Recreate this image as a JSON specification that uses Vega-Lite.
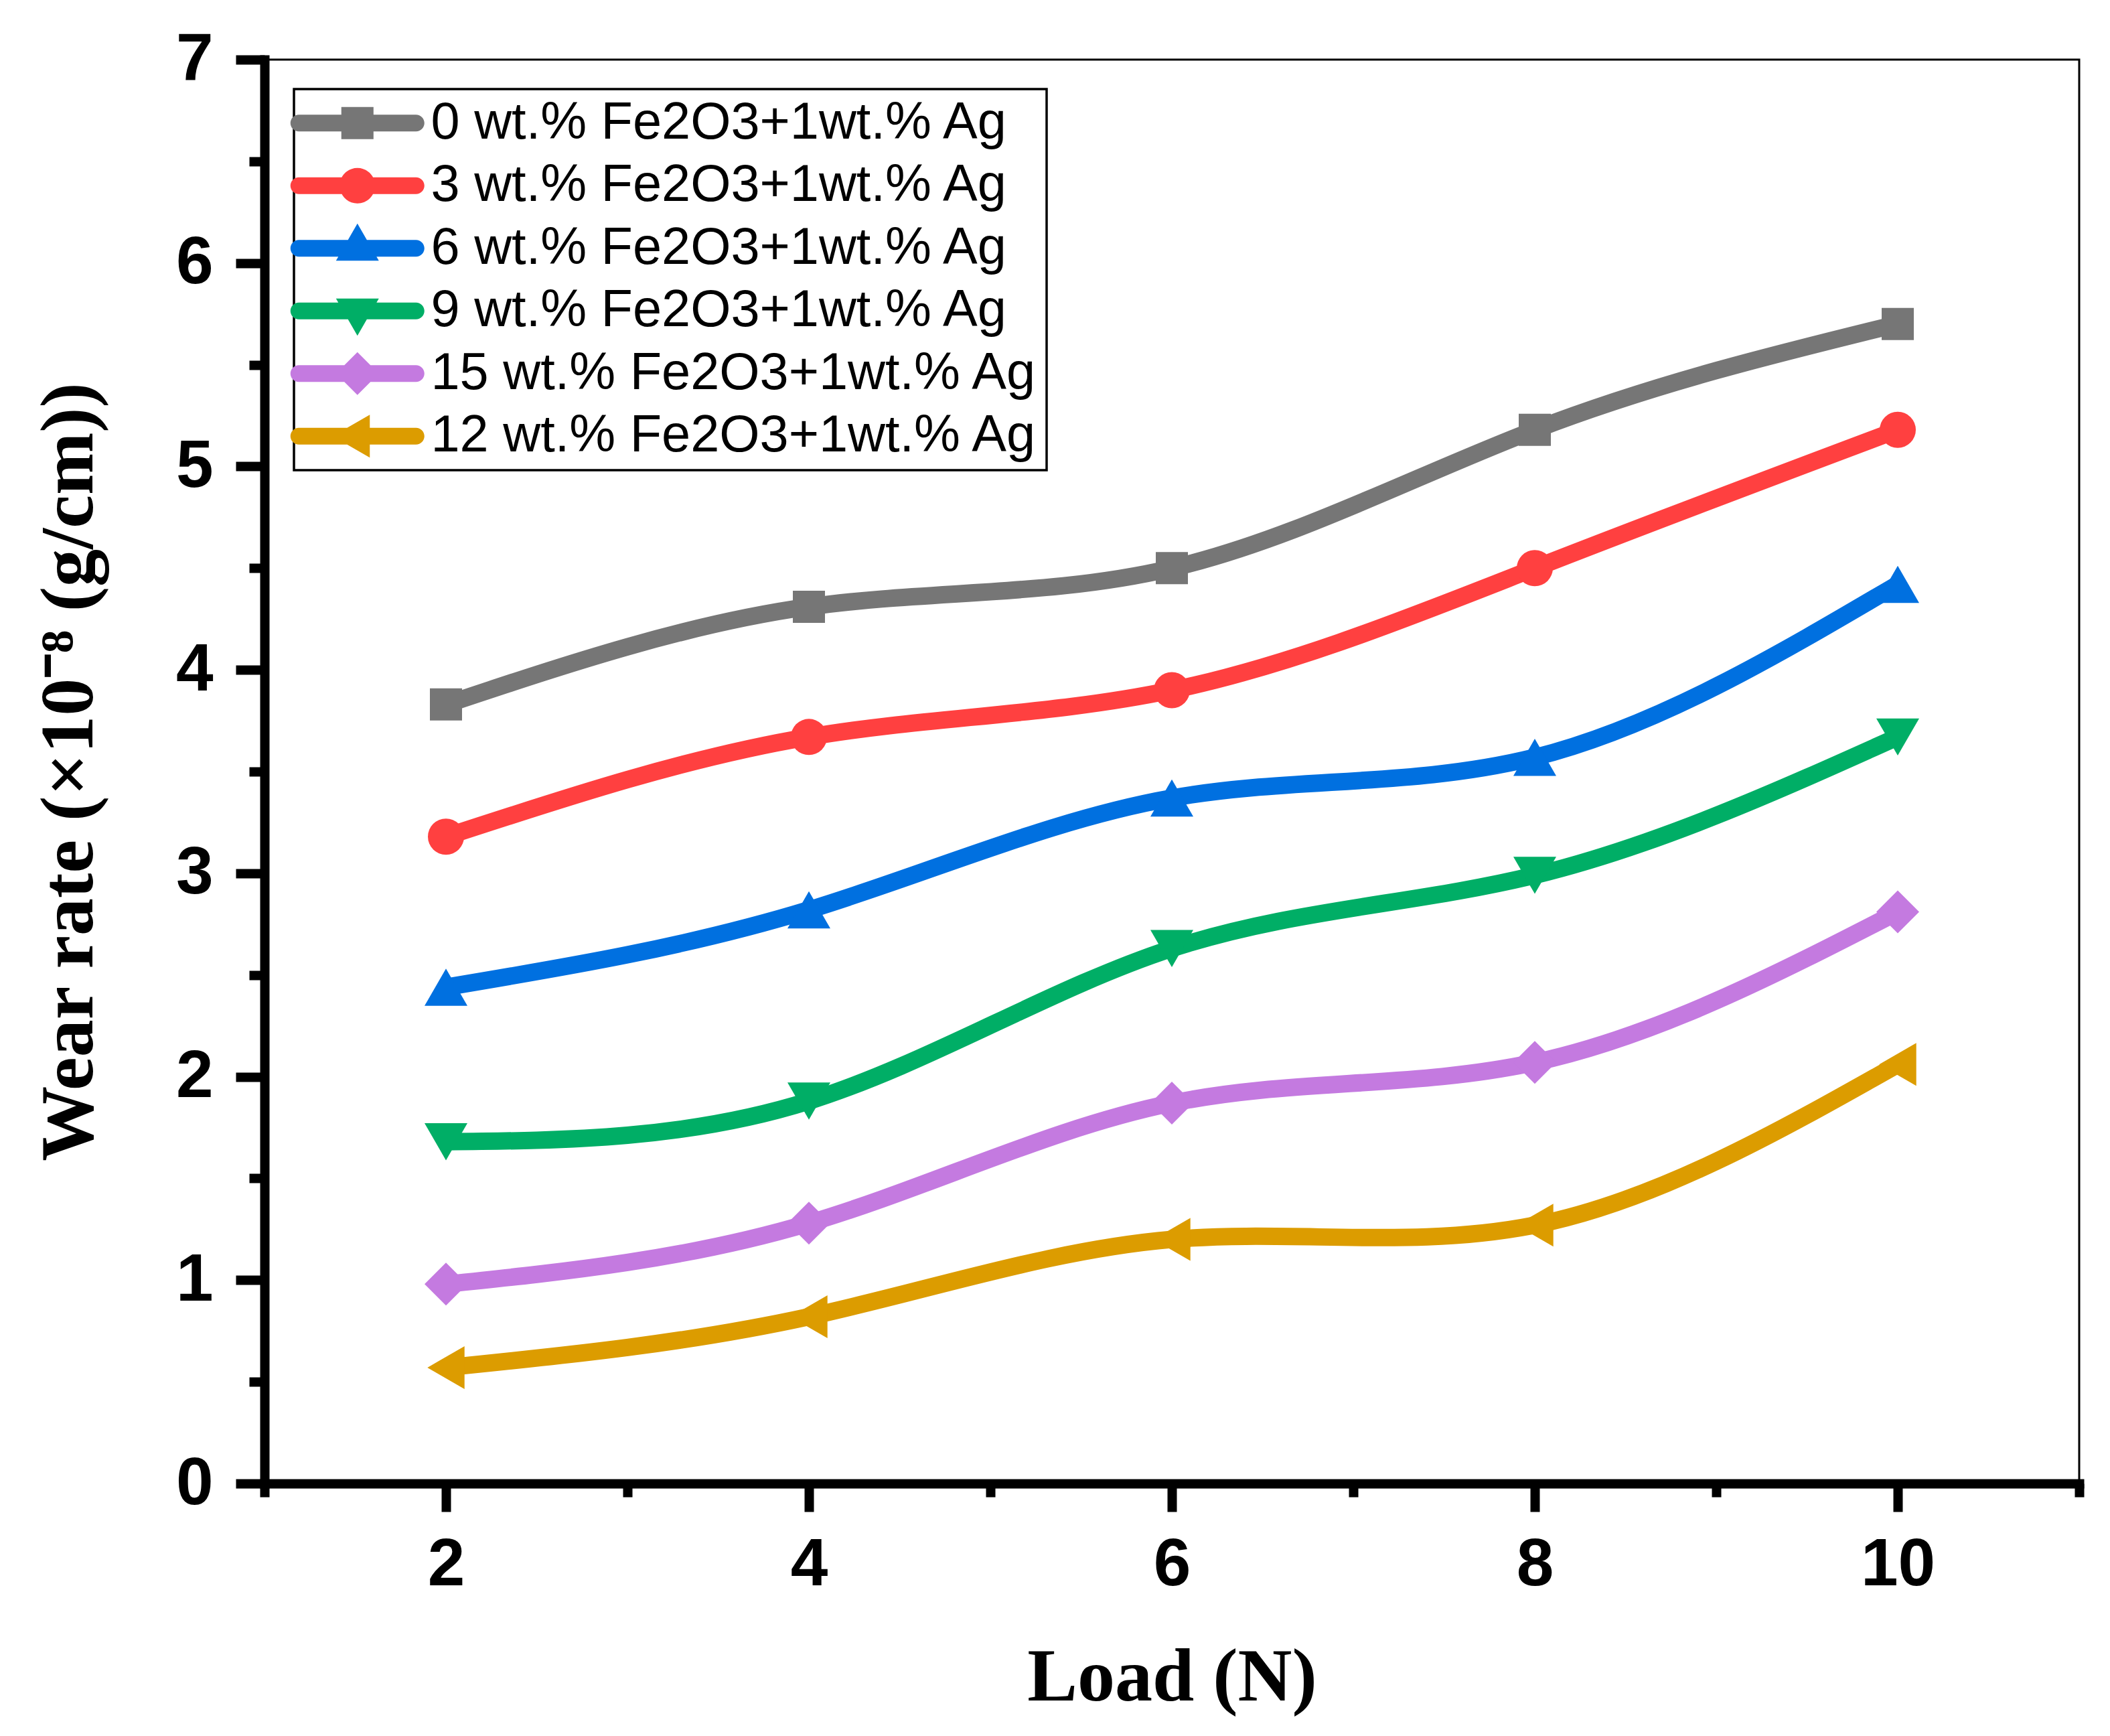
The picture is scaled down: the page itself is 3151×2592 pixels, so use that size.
{
  "$schema": "https://vega.github.io/schema/vega-lite/v6.json",
  "width": 2710,
  "height": 2126,
  "autosize": {"type": "none"},
  "padding": {"left": 395, "top": 89, "right": 46, "bottom": 377},
  "background": "white",
  "config": {
    "view": {"stroke": "black", "strokeWidth": 3},
    "axis": {
      "grid": false,
      "domainColor": "black",
      "domainWidth": 14,
      "domainCap": "square",
      "tickColor": "black",
      "tickWidth": 14,
      "labelFont": "Liberation Sans",
      "labelFontWeight": "bold",
      "labelFontSize": 100,
      "labelColor": "black",
      "titleFont": "Liberation Serif",
      "titleFontWeight": "bold",
      "titleFontSize": 112,
      "titleColor": "black"
    },
    "legend": {
      "strokeColor": "black",
      "strokeWidth": 3.5,
      "fillColor": "white"
    }
  },
  "data": {
    "values": [
      {"load": 2, "wear": 3.83, "series": "0 wt.% Fe2O3+1wt.% Ag"},
      {"load": 4, "wear": 4.31, "series": "0 wt.% Fe2O3+1wt.% Ag"},
      {"load": 6, "wear": 4.50, "series": "0 wt.% Fe2O3+1wt.% Ag"},
      {"load": 8, "wear": 5.18, "series": "0 wt.% Fe2O3+1wt.% Ag"},
      {"load": 10, "wear": 5.70, "series": "0 wt.% Fe2O3+1wt.% Ag"},
      {"load": 2, "wear": 3.18, "series": "3 wt.% Fe2O3+1wt.% Ag"},
      {"load": 4, "wear": 3.67, "series": "3 wt.% Fe2O3+1wt.% Ag"},
      {"load": 6, "wear": 3.90, "series": "3 wt.% Fe2O3+1wt.% Ag"},
      {"load": 8, "wear": 4.50, "series": "3 wt.% Fe2O3+1wt.% Ag"},
      {"load": 10, "wear": 5.18, "series": "3 wt.% Fe2O3+1wt.% Ag"},
      {"load": 2, "wear": 2.44, "series": "6 wt.% Fe2O3+1wt.% Ag"},
      {"load": 4, "wear": 2.82, "series": "6 wt.% Fe2O3+1wt.% Ag"},
      {"load": 6, "wear": 3.37, "series": "6 wt.% Fe2O3+1wt.% Ag"},
      {"load": 8, "wear": 3.57, "series": "6 wt.% Fe2O3+1wt.% Ag"},
      {"load": 10, "wear": 4.42, "series": "6 wt.% Fe2O3+1wt.% Ag"},
      {"load": 2, "wear": 1.68, "series": "9 wt.% Fe2O3+1wt.% Ag"},
      {"load": 4, "wear": 1.88, "series": "9 wt.% Fe2O3+1wt.% Ag"},
      {"load": 6, "wear": 2.63, "series": "9 wt.% Fe2O3+1wt.% Ag"},
      {"load": 8, "wear": 2.99, "series": "9 wt.% Fe2O3+1wt.% Ag"},
      {"load": 10, "wear": 3.67, "series": "9 wt.% Fe2O3+1wt.% Ag"},
      {"load": 2, "wear": 0.98, "series": "15 wt.% Fe2O3+1wt.% Ag"},
      {"load": 4, "wear": 1.28, "series": "15 wt.% Fe2O3+1wt.% Ag"},
      {"load": 6, "wear": 1.87, "series": "15 wt.% Fe2O3+1wt.% Ag"},
      {"load": 8, "wear": 2.07, "series": "15 wt.% Fe2O3+1wt.% Ag"},
      {"load": 10, "wear": 2.81, "series": "15 wt.% Fe2O3+1wt.% Ag"},
      {"load": 2, "wear": 0.57, "series": "12 wt.% Fe2O3+1wt.% Ag"},
      {"load": 4, "wear": 0.82, "series": "12 wt.% Fe2O3+1wt.% Ag"},
      {"load": 6, "wear": 1.20, "series": "12 wt.% Fe2O3+1wt.% Ag"},
      {"load": 8, "wear": 1.27, "series": "12 wt.% Fe2O3+1wt.% Ag"},
      {"load": 10, "wear": 2.06, "series": "12 wt.% Fe2O3+1wt.% Ag"}
    ]
  },
  "encoding": {
    "x": {
      "field": "load",
      "type": "quantitative",
      "scale": {"domain": [1, 11]},
      "axis": {
        "title": "Load (N)",
        "values": [1, 2, 3, 4, 5, 6, 7, 8, 9, 10, 11],
        "tickSize": {"condition": {"test": "datum.value % 2 === 0", "value": 42}, "value": 20},
        "labelExpr": "datum.value % 2 === 0 ? format(datum.value, 'd') : ''",
        "labelPadding": 30,
        "titlePadding": 64
      }
    },
    "y": {
      "field": "wear",
      "type": "quantitative",
      "scale": {"domain": [0, 7]},
      "axis": {
        "title": "Wear rate (×10⁻⁸ (g/cm))",
        "values": [0, 0.5, 1, 1.5, 2, 2.5, 3, 3.5, 4, 4.5, 5, 5.5, 6, 6.5, 7],
        "tickSize": {"condition": {"test": "datum.value % 1 === 0", "value": 43}, "value": 23},
        "labelExpr": "datum.value % 1 === 0 ? format(datum.value, 'd') : ''",
        "labelPadding": 34,
        "titleBaseline": "alphabetic",
        "titlePadding": 125
      }
    }
  },
  "resolve": {
    "scale": {"shape": "independent"},
    "legend": {"color": "independent", "shape": "independent"}
  },
  "layer": [
    {
      "mark": {"type": "line", "interpolate": "natural", "strokeWidth": 26, "strokeCap": "round"},
      "encoding": {
        "color": {
          "field": "series",
          "type": "nominal",
          "scale": {
            "domain": ["0 wt.% Fe2O3+1wt.% Ag", "3 wt.% Fe2O3+1wt.% Ag", "6 wt.% Fe2O3+1wt.% Ag", "9 wt.% Fe2O3+1wt.% Ag", "15 wt.% Fe2O3+1wt.% Ag", "12 wt.% Fe2O3+1wt.% Ag"],
            "range": ["#767676", "#FF4040", "#0070E0", "#00AE66", "#C47AE0", "#DC9C00"]
          },
          "legend": null
        }
      }
    },
    {
      "mark": {"type": "point", "filled": true, "opacity": 1, "strokeWidth": 0},
      "encoding": {
        "color": {"field": "series", "type": "nominal", "legend": null},
        "shape": {
          "field": "series",
          "type": "nominal",
          "scale": {
            "domain": ["0 wt.% Fe2O3+1wt.% Ag", "3 wt.% Fe2O3+1wt.% Ag", "6 wt.% Fe2O3+1wt.% Ag", "9 wt.% Fe2O3+1wt.% Ag", "15 wt.% Fe2O3+1wt.% Ag", "12 wt.% Fe2O3+1wt.% Ag"],
            "range": ["square", "circle", "triangle-up", "triangle-down", "diamond", "triangle-left"]
          },
          "legend": null
        },
        "size": {
          "condition": [
            {"test": "datum.series === '0 wt.% Fe2O3+1wt.% Ag'", "value": 2304},
            {"test": "datum.series === '3 wt.% Fe2O3+1wt.% Ag'", "value": 2916}
          ],
          "value": 4096
        }
      }
    },
    {
      "mark": {"type": "point", "filled": true, "opacity": 0, "strokeWidth": 0},
      "encoding": {
        "color": {
          "field": "series",
          "type": "nominal",
          "legend": {
            "title": null,
            "orient": "top-left",
            "offset": 44,
            "padding": 12,
            "symbolSize": 5776,
            "symbolStrokeWidth": 0,
            "symbolOpacity": 1,
            "symbolOffset": 44,
            "rowPadding": 14.5,
            "labelFont": "Liberation Sans",
            "labelFontSize": 77.5,
            "labelColor": "black",
            "labelOffset": 71,
            "labelLimit": 0
          }
        },
        "shape": {
          "field": "series",
          "type": "nominal",
          "scale": {
            "domain": ["0 wt.% Fe2O3+1wt.% Ag", "3 wt.% Fe2O3+1wt.% Ag", "6 wt.% Fe2O3+1wt.% Ag", "9 wt.% Fe2O3+1wt.% Ag", "15 wt.% Fe2O3+1wt.% Ag", "12 wt.% Fe2O3+1wt.% Ag"],
            "range": [
              "M-2.303,-0.329H2.303A0.329,0.329 0 0 1 2.303,0.329H-2.303A0.329,0.329 0 0 1 -2.303,-0.329Z M-0.632,-0.632H0.632V0.632H-0.632Z",
              "M-2.303,-0.329H2.303A0.329,0.329 0 0 1 2.303,0.329H-2.303A0.329,0.329 0 0 1 -2.303,-0.329Z M-0.697,0A0.697,0.697 0 1 1 0.697,0A0.697,0.697 0 1 1 -0.697,0Z",
              "M-2.303,-0.329H2.303A0.329,0.329 0 0 1 2.303,0.329H-2.303A0.329,0.329 0 0 1 -2.303,-0.329Z M0,-0.974L0.842,0.487H-0.842Z",
              "M-2.303,-0.329H2.303A0.329,0.329 0 0 1 2.303,0.329H-2.303A0.329,0.329 0 0 1 -2.303,-0.329Z M0,0.974L-0.842,-0.487H0.842Z",
              "M-2.303,-0.329H2.303A0.329,0.329 0 0 1 2.303,0.329H-2.303A0.329,0.329 0 0 1 -2.303,-0.329Z M0,-0.842L0.842,0L0,0.842L-0.842,0Z",
              "M-2.303,-0.329H2.303A0.329,0.329 0 0 1 2.303,0.329H-2.303A0.329,0.329 0 0 1 -2.303,-0.329Z M-0.974,0L0.487,-0.842V0.842Z"
            ]
          },
          "legend": {
            "title": null,
            "orient": "top-left",
            "offset": 44,
            "padding": 12,
            "symbolSize": 5776,
            "symbolStrokeWidth": 0,
            "symbolOpacity": 1,
            "symbolOffset": 44,
            "rowPadding": 14.5,
            "labelFont": "Liberation Sans",
            "labelFontSize": 77.5,
            "labelColor": "black",
            "labelOffset": 71,
            "labelLimit": 0
          }
        }
      }
    }
  ]
}
